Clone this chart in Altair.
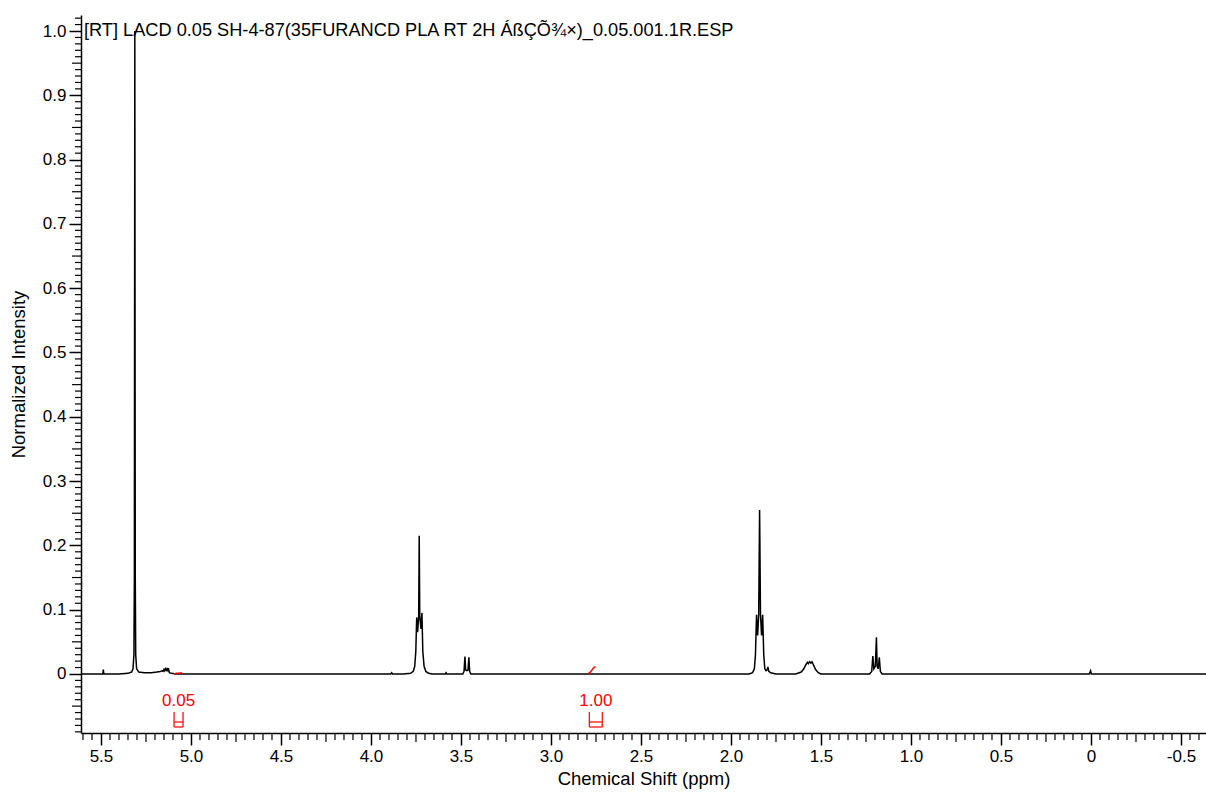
import altair as alt
import numpy as np
import pandas as pd

TITLE = "[RT] LACD 0.05 SH-4-87(35FURANCD PLA RT 2H \u00c1\u00df\u00c7\u00d5\u00be\u00d7)_0.05.001.1R.ESP"

# 1H spectrum trace, vertices in ppm (descending) and normalized intensity
shift = [
    5.611, 5.500, 5.490, 5.487, 5.484, 5.450, 5.400, 5.350, 5.330, 5.322, 5.317, 5.3145,
    5.312, 5.3095, 5.307, 5.302, 5.290, 5.260, 5.220, 5.190, 5.170, 5.160, 5.155, 5.150,
    5.146, 5.142, 5.138, 5.134, 5.130, 5.126, 5.120, 5.110, 5.080, 5.000, 4.500, 3.950,
    3.890, 3.885, 3.880, 3.820, 3.780, 3.765, 3.757, 3.751, 3.746, 3.741, 3.735, 3.732,
    3.729, 3.722, 3.717, 3.712, 3.705, 3.695, 3.680, 3.660, 3.620, 3.587, 3.583, 3.579,
    3.500, 3.490, 3.483, 3.478, 3.474, 3.467, 3.461, 3.456, 3.452, 3.445, 3.400, 3.000,
    2.500, 2.000, 1.900, 1.880, 1.870, 1.864, 1.858, 1.852, 1.846, 1.841, 1.836, 1.830,
    1.824, 1.818, 1.812, 1.805, 1.800, 1.795, 1.790, 1.780, 1.750, 1.700, 1.640, 1.610,
    1.595, 1.585, 1.575, 1.570, 1.563, 1.556, 1.550, 1.540, 1.530, 1.515, 1.500, 1.400,
    1.230, 1.218, 1.212, 1.206, 1.198, 1.192, 1.188, 1.182, 1.176, 1.170, 1.160, 1.000,
    0.500, 0.010, 0.002, -0.002, -0.010, -0.300, -0.639,
]
intensity = [
    0.000, 0.000, 0.000, 0.007, 0.000, 0.000, 0.000, 0.001, 0.003, 0.008, 0.030, 0.150,
    1.000, 0.150, 0.030, 0.008, 0.003, 0.002, 0.002, 0.003, 0.004, 0.005, 0.004, 0.007,
    0.005, 0.008, 0.006, 0.008, 0.004, 0.009, 0.002, 0.001, 0.000, 0.000, 0.000, 0.000,
    0.000, 0.002, 0.000, 0.000, 0.001, 0.004, 0.012, 0.035, 0.088, 0.065, 0.090, 0.215,
    0.090, 0.070, 0.095, 0.035, 0.012, 0.004, 0.001, 0.000, 0.000, 0.000, 0.002, 0.000,
    0.000, 0.000, 0.004, 0.027, 0.006, 0.005, 0.006, 0.026, 0.004, 0.000, 0.000, 0.000,
    0.000, 0.000, 0.000, 0.002, 0.008, 0.030, 0.092, 0.060, 0.092, 0.255, 0.092, 0.060,
    0.092, 0.030, 0.008, 0.005, 0.006, 0.011, 0.004, 0.002, 0.000, 0.000, 0.000, 0.003,
    0.008, 0.014, 0.018, 0.016, 0.019, 0.017, 0.019, 0.013, 0.007, 0.002, 0.000, 0.000,
    0.000, 0.004, 0.028, 0.008, 0.012, 0.057, 0.012, 0.008, 0.026, 0.004, 0.000, 0.000,
    0.000, 0.000, 0.005, 0.000, 0.000, 0.000, 0.000,
]

# integral traces (red)
integral_shift = [5.095, 5.080, 5.065, 5.050, 2.795, 2.785, 2.775, 2.765, 2.757, 2.752]
integral_height = [0.000, 0.001, 0.001, 0.002, 0.000, 0.002, 0.005, 0.009, 0.011, 0.011]
integral_group = ["a", "a", "a", "a", "b", "b", "b", "b", "b", "b"]

# integration regions and their values
region_start = [5.094, 2.787]
region_end = [5.044, 2.715]
region_label = ["0.05", "1.00"]

x_major = [5.5, 5.0, 4.5, 4.0, 3.5, 3.0, 2.5, 2.0, 1.5, 1.0, 0.5, 0.0, -0.5]
y_major = [0.0, 0.1, 0.2, 0.3, 0.4, 0.5, 0.6, 0.7, 0.8, 0.9, 1.0]

W, H = 1125, 718
FONT = "Liberation Sans"
FS = 17

x_scale = alt.Scale(domain=[-0.639, 5.611], reverse=True, nice=False, zero=False)
y_scale = alt.Scale(domain=[-0.0918, 1.0249], nice=False, zero=False)

label_expr = "datum.value == 0 ? '0' : replace(format(datum.value, '.1f'), '\u2212', '-')"

spec_df = pd.DataFrame({"shift": shift, "intensity": intensity})
integral_df = pd.DataFrame({"shift": integral_shift, "height": integral_height, "group": integral_group})
region_df = pd.DataFrame({"start": region_start, "end": region_end, "label": region_label})
region_df["mid"] = (region_df["start"] + region_df["end"]) / 2
edges_df = pd.DataFrame({"edge": region_start + region_end})

# minor (0.05 / 0.01) and medium (0.25 / 0.05) tick positions
xs = np.round(np.arange(-0.60, 5.6001, 0.05), 2)
x_mid = [v for v in xs if abs(v * 4 - round(v * 4)) < 1e-6 and abs(v * 2 - round(v * 2)) > 1e-6]
x_min = [v for v in xs if abs(v * 4 - round(v * 4)) > 1e-6]
ys = np.round(np.arange(-0.09, 1.0201, 0.01), 2)
y_mid = [v for v in ys if abs(v * 20 - round(v * 20)) < 1e-6 and abs(v * 10 - round(v * 10)) > 1e-6]
y_min = [v for v in ys if abs(v * 20 - round(v * 20)) > 1e-6]

X_TITLE = "Chemical Shift (ppm)"
Y_TITLE = "Normalized Intensity"

x_axis = alt.Axis(
    values=x_major, labelExpr=label_expr, grid=False,
    tickSize=12, tickWidth=1.5, tickColor="black",
    domainColor="black", domainWidth=1.5,
    labelFont=FONT, labelFontSize=FS, labelColor="black", labelPadding=3,
    titleFont=FONT, titleFontSize=18.5,
    titleFontWeight="normal", titleColor="black", titleY=45, titleBaseline="middle",
)
y_axis = alt.Axis(
    values=y_major, labelExpr=label_expr, grid=False,
    tickSize=12, tickWidth=1.5, tickColor="black",
    domainColor="black", domainWidth=1.5,
    labelFont=FONT, labelFontSize=FS, labelColor="black", labelPadding=3,
    titleFont=FONT, titleFontSize=18.5,
    titleFontWeight="normal", titleColor="black", titleX=-63, titleY=H / 2,
    titleBaseline="middle",
)


def X(field):
    return alt.X(field, scale=x_scale, axis=x_axis, title=X_TITLE)


def Y(field):
    return alt.Y(field, scale=y_scale, axis=y_axis, title=Y_TITLE)


spectrum = alt.Chart(spec_df).mark_line(color="black", strokeWidth=1.5).encode(
    x=X("shift:Q"), y=Y("intensity:Q"),
)

integral = alt.Chart(integral_df).mark_line(color="#ff0000", strokeWidth=1.5).encode(
    x=X("shift:Q"), y=Y("height:Q"), detail="group:N",
)

bracket_sides = alt.Chart(edges_df).mark_rule(color="#ff0000", strokeWidth=1.2).encode(
    x=X("edge:Q"), y=alt.value(H - 21), y2=alt.value(H - 6),
)
bracket_bar = alt.Chart(region_df).mark_rule(color="#ff0000", strokeWidth=1.2).encode(
    x=X("start:Q"), x2="end:Q", y=alt.value(H - 11),
)
bracket_base = alt.Chart(region_df).mark_rule(color="#ff0000", strokeWidth=1.2).encode(
    x=X("start:Q"), x2="end:Q", y=alt.value(H - 6),
)
region_text = alt.Chart(region_df).mark_text(
    color="#ff0000", font=FONT, fontSize=FS, baseline="middle", align="center"
).encode(x=X("mid:Q"), y=alt.value(H - 32), text="label:N")


def tick_rules(values, channel, length):
    df = pd.DataFrame({"v": values})
    base = alt.Chart(df).mark_rule(color="black", strokeWidth=1.2)
    if channel == "x":
        return base.encode(x=X("v:Q"), y=alt.value(H), y2=alt.value(H + length))
    return base.encode(y=Y("v:Q"), x=alt.value(0), x2=alt.value(-length))


title_text = alt.Chart(pd.DataFrame({"t": [TITLE]})).mark_text(
    font=FONT, fontSize=18.2, align="left", baseline="middle", color="black"
).encode(text="t:N", x=alt.value(3), y=alt.value(16))

chart = alt.layer(
    spectrum,
    integral,
    bracket_sides,
    bracket_bar,
    bracket_base,
    region_text,
    tick_rules(x_min, "x", 7),
    tick_rules(x_mid, "x", 9),
    tick_rules(y_min, "y", 6),
    tick_rules(y_mid, "y", 9),
    title_text,
).properties(
    width=W,
    height=H,
    autosize=alt.AutoSizeParams(type="none"),
    padding={"left": 81, "top": 15, "right": 0, "bottom": 59},
    background="white",
).configure_view(stroke=None)

chart.save("out.html", embed_options={"renderer": "svg", "actions": False})
